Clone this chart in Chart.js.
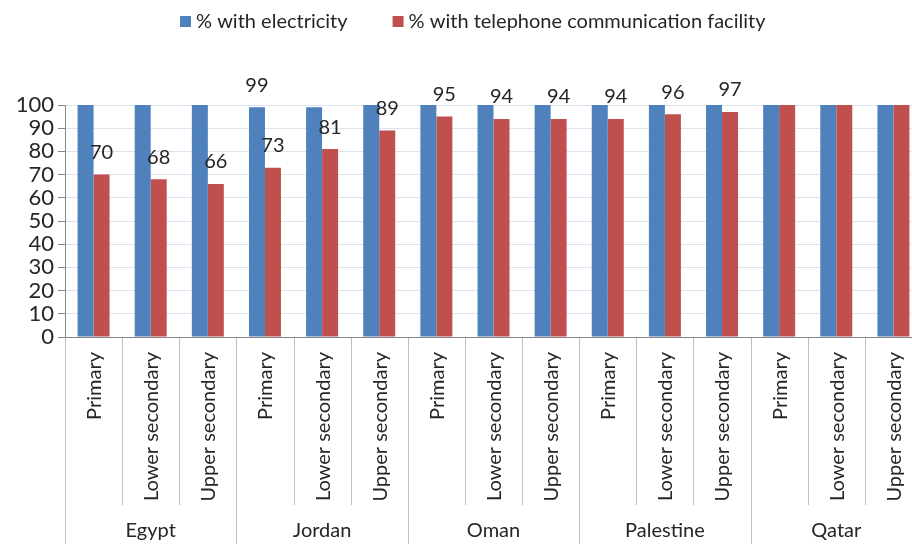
<!DOCTYPE html>
<html>
<head>
<meta charset="utf-8">
<script src="https://cdn.jsdelivr.net/npm/chart.js@4"></script>
<style>
  html, body { margin: 0; padding: 0; background: #fff; overflow: hidden; width: 912px; height: 544px; }
  #wrap { width: 922px; height: 544px; }
</style>
</head>
<body>
<div id="wrap"><canvas id="c" width="922" height="544"></canvas></div>
<script>
// Countries and school levels (two-level category axis)
const countries = ['Egypt', 'Jordan', 'Oman', 'Palestine', 'Qatar'];
const levels = ['Primary', 'Lower secondary', 'Upper secondary'];

// Share of schools (%) per country / level
const electricity = [100, 100, 100, 99, 99, 100, 100, 100, 100, 100, 100, 100, 100, 100, 100];
const telephone   = [70, 68, 66, 73, 81, 89, 95, 94, 94, 94, 96, 97, 100, 100, 100];

// Which bars carry a value label
const electricityLabelled = [false, false, false, true, false, false, false, false, false, false, false, false, false, false, false];
const telephoneLabelled   = [true, true, true, true, true, true, true, true, true, true, true, true, false, false, false];

const seriesNames = ['% with electricity', '% with telephone communication facility'];
const seriesColors = ['#4f81bd', '#c0504d'];
const yTicks = [0, 10, 20, 30, 40, 50, 60, 70, 80, 90, 100];

const FONT = 'Lato, "Open Sans", sans-serif';
const TEXT = '#262626';

const categoryLabels = countries.flatMap(c => levels.map(l => c + ' – ' + l));

const groupedAxis = {
  id: 'groupedAxis',
  afterDraw(chart) {
    const ctx = chart.ctx;
    const xs = chart.scales.x;
    const area = chart.chartArea;
    const half = (xs.getPixelForValue(1) - xs.getPixelForValue(0)) / 2;
    const n = categoryLabels.length;
    ctx.save();

    // separators between categories and groups
    ctx.strokeStyle = '#bfbfbf';
    ctx.lineWidth = 1;
    for (let k = 0; k <= n; k++) {
      const x = Math.round(k < n ? xs.getPixelForValue(k) - half : xs.getPixelForValue(n - 1) + half) + 0.5;
      const bottom = k % levels.length === 0 ? chart.height : area.bottom + 168;
      ctx.beginPath();
      ctx.moveTo(x, area.bottom);
      ctx.lineTo(x, bottom);
      ctx.stroke();
    }
    // baseline
    ctx.strokeStyle = '#868686';
    ctx.beginPath();
    ctx.moveTo(area.left, Math.round(area.bottom) + 0.5);
    ctx.lineTo(area.right, Math.round(area.bottom) + 0.5);
    ctx.stroke();

    // level labels, rotated
    ctx.fillStyle = TEXT;
    ctx.font = '20px ' + FONT;
    ctx.textAlign = 'right';
    ctx.textBaseline = 'middle';
    for (let i = 0; i < n; i++) {
      const x = xs.getPixelForValue(i);
      ctx.save();
      ctx.translate(x + 1, area.bottom + 15);
      ctx.rotate(-Math.PI / 2);
      ctx.fillText(levels[i % levels.length], 0, 0);
      ctx.restore();
    }

    // country labels
    ctx.textAlign = 'center';
    countries.forEach((c, g) => {
      const x = xs.getPixelForValue(g * levels.length + 1);
      ctx.fillText(c, x, area.bottom + 194);
    });

    // value labels above bars
    const flags = [electricityLabelled, telephoneLabelled];
    chart.data.datasets.forEach((ds, d) => {
      const meta = chart.getDatasetMeta(d);
      meta.data.forEach((bar, i) => {
        if (!flags[d][i]) return;
        ctx.fillText(String(ds.data[i]), bar.x, bar.y - 22);
      });
    });

    // legend
    ctx.textAlign = 'left';
    let lx = 180;
    const ly = 22;
    chart.data.datasets.forEach((ds, d) => {
      ctx.fillStyle = ds.backgroundColor;
      ctx.fillRect(lx, ly - 6, 11, 11);
      ctx.fillStyle = TEXT;
      ctx.fillText(ds.label, lx + 16, ly);
      lx += 16 + ctx.measureText(ds.label).width + 45;
    });

    ctx.restore();
  }
};

new Chart(document.getElementById('c'), {
  type: 'bar',
  data: {
    labels: categoryLabels,
    datasets: [
      { label: seriesNames[0], data: electricity, backgroundColor: seriesColors[0], categoryPercentage: 0.56, barPercentage: 1 },
      { label: seriesNames[1], data: telephone, backgroundColor: seriesColors[1], categoryPercentage: 0.56, barPercentage: 1 }
    ]
  },
  options: {
    responsive: false,
    animation: false,
    layout: { padding: { top: 105, bottom: 207, left: 0, right: 0 } },
    plugins: { legend: { display: false }, tooltip: { enabled: false } },
    scales: {
      x: { display: false, offset: true },
      y: {
        min: 0, max: 100,
        afterBuildTicks(s) { s.ticks = yTicks.map(v => ({ value: v })); },
        afterFit(s) { s.width = 65; },
        ticks: { color: TEXT, font: { family: FONT, size: 22 }, padding: 4, autoSkip: false },
        grid: { color: '#dce3ee', tickColor: '#868686', tickLength: 7 },
        border: { color: '#868686' }
      }
    }
  },
  plugins: [groupedAxis]
});
</script>
</body>
</html>
